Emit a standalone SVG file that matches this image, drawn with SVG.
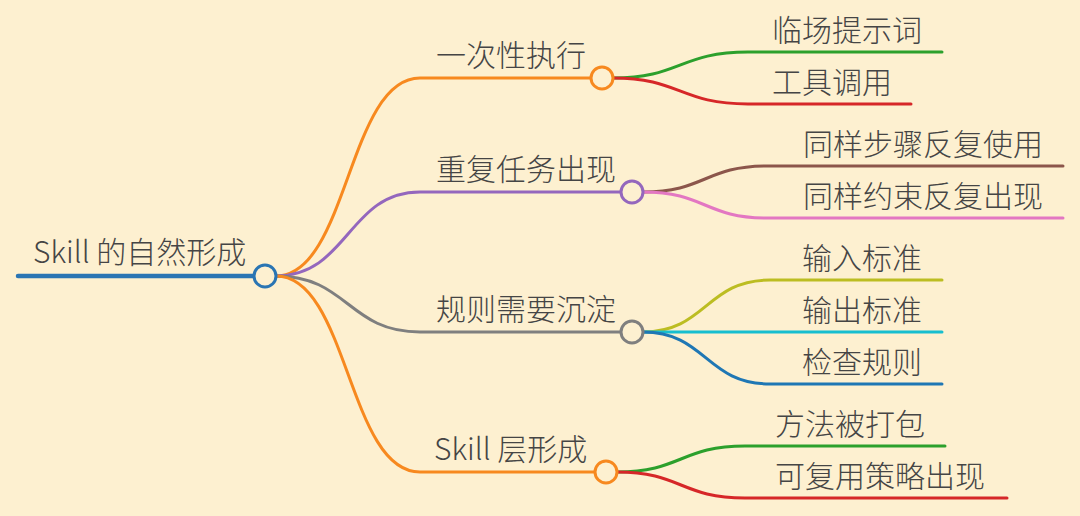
<svg xmlns="http://www.w3.org/2000/svg" width="1080" height="516" viewBox="0 0 1080 516">
<style>
.t{font-family:"Noto Sans CJK SC","Noto Sans",sans-serif;font-size:30px;font-weight:300;fill:#454545;}
.c{fill:none;stroke-linecap:round;}
.n{fill:#fdf0d0;stroke-width:3;}
</style>
<rect width="1080" height="516" fill="#fdf0d0"/>
<g id="connectors">
<path class="c" d="M18,276 L254,276" stroke="#2a75b3" stroke-width="4.5"/>
<path class="c" d="M276,276 C348,276 348,78 420,78 L591,78" stroke="#f7891f" stroke-width="3"/>
<path class="c" d="M276,276 C348,276 348,192 420,192 L621,192" stroke="#9467bd" stroke-width="3"/>
<path class="c" d="M276,276 C348,276 348,332 420,332 L621,332" stroke="#7f7f7f" stroke-width="3"/>
<path class="c" d="M276,276 C348,276 348,472 420,472 L595,472" stroke="#f7891f" stroke-width="3"/>
<path class="c" d="M613,78 C680,78 680,52 748,52 L942,52" stroke="#2ca02c" stroke-width="3"/>
<path class="c" d="M613,78 C680,78 680,104 748,104 L911,104" stroke="#d62728" stroke-width="3"/>
<path class="c" d="M643,192 C705,192 705,166 767,166 L1063,166" stroke="#8c564b" stroke-width="3"/>
<path class="c" d="M643,192 C705,192 705,218 767,218 L1063,218" stroke="#e377c2" stroke-width="3"/>
<path class="c" d="M643,332 C706,332 706,280 770,280 L942,280" stroke="#bcbd22" stroke-width="3"/>
<path class="c" d="M643,332 L942,332" stroke="#17becf" stroke-width="3"/>
<path class="c" d="M643,332 C706,332 706,384 770,384 L942,384" stroke="#1f77b4" stroke-width="3"/>
<path class="c" d="M617,472 C681,472 681,446 745,446 L945,446" stroke="#2ca02c" stroke-width="3"/>
<path class="c" d="M617,472 C681,472 681,498 745,498 L1007,498" stroke="#d62728" stroke-width="3"/>
</g>
<g id="root">
<text class="t" x="33" y="263">Skill 的自然形成</text>
<circle class="n" cx="265" cy="276" r="11" stroke="#2a75b3"/>
</g>
<g id="n1">
<text class="t" x="436" y="66">一次性执行</text>
<circle class="n" cx="602" cy="78" r="11" stroke="#f7891f"/>
</g>
<g id="n2">
<text class="t" x="436" y="180">重复任务出现</text>
<circle class="n" cx="632" cy="192" r="11" stroke="#9467bd"/>
</g>
<g id="n3">
<text class="t" x="436" y="320">规则需要沉淀</text>
<circle class="n" cx="632" cy="332" r="11" stroke="#7f7f7f"/>
</g>
<g id="n4">
<text class="t" x="434" y="460">Skill 层形成</text>
<circle class="n" cx="606" cy="472" r="11" stroke="#f7891f"/>
</g>
<g id="l1"><text class="t" x="772" y="41">临场提示词</text></g>
<g id="l2"><text class="t" x="772" y="93">工具调用</text></g>
<g id="l3"><text class="t" x="803" y="155">同样步骤反复使用</text></g>
<g id="l4"><text class="t" x="803" y="207">同样约束反复出现</text></g>
<g id="l5"><text class="t" x="802" y="269">输入标准</text></g>
<g id="l6"><text class="t" x="802" y="321">输出标准</text></g>
<g id="l7"><text class="t" x="802" y="373">检查规则</text></g>
<g id="l8"><text class="t" x="775" y="435">方法被打包</text></g>
<g id="l9"><text class="t" x="775" y="487">可复用策略出现</text></g>
</svg>
